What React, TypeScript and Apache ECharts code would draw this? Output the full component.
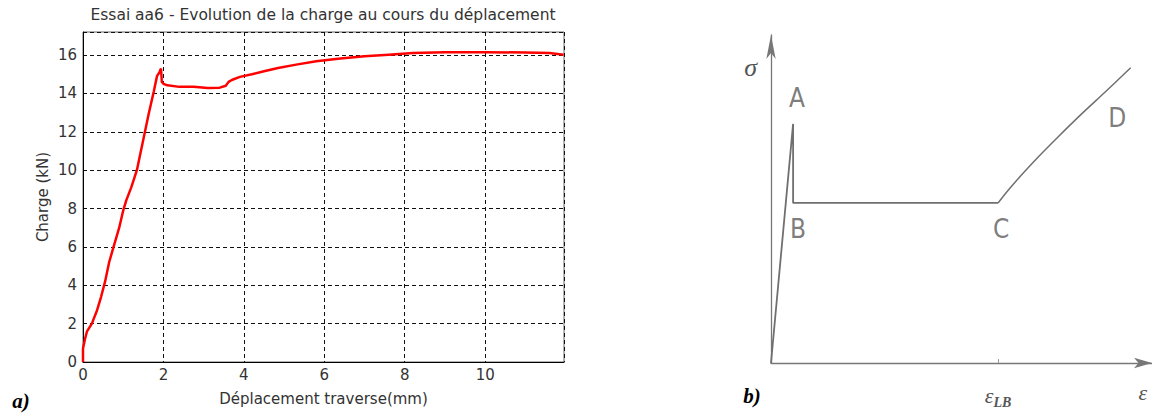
import React, { useEffect, useRef } from "react";
import * as echarts from "echarts";

// ---- Left chart (a): load vs crosshead displacement ----
const chartTitle = "Essai aa6 - Evolution de la charge au cours du déplacement";
const xAxisName = "Déplacement traverse(mm)";
const yAxisName = "Charge (kN)";
const dispMm = [
  0, 0, 0.05, 0.1, 0.22, 0.35, 0.45, 0.55, 0.65, 0.76, 0.9, 1.0, 1.08, 1.2, 1.34, 1.42, 1.5,
  1.63, 1.76, 1.84, 1.9, 1.94, 1.96, 2.0, 2.1, 2.4, 2.75, 3.1, 3.4, 3.55, 3.62, 3.7, 3.9,
  4.2, 4.5, 4.85, 5.3, 5.8, 6.4, 7.0, 7.6, 8.2, 9.0, 10.0, 11.0, 11.6, 11.95,
];
const chargeKN = [
  0, 0.7, 1.2, 1.6, 2.0, 2.7, 3.4, 4.2, 5.2, 6.0, 7.0, 7.9, 8.45, 9.1, 10.0, 10.8, 11.6,
  12.9, 14.1, 14.9, 15.1, 15.3, 14.6, 14.5, 14.42, 14.34, 14.35, 14.28, 14.3, 14.4, 14.6, 14.7, 14.86,
  15.0, 15.15, 15.32, 15.5, 15.67, 15.82, 15.93, 16.02, 16.1, 16.15, 16.15, 16.13, 16.1, 16.02,
];
const xMax = 11.96;
const yMax = 17.2;

// ---- Right diagram (b): schematic sigma-epsilon ----
const diagX = [0, 5.8, 5.8, 59.6];
const diagY = [0, 72.9, 48.8, 48.8];
const curveX = [59.6, 62.2, 65.8, 70.2, 75.4, 81.4, 87.5, 94.4];
const curveY = [48.8, 52.6, 57.4, 62.9, 69.0, 75.8, 82.4, 90.0];
const pointLabels = ["A", "B", "C", "D"];
const pointLabelX = [5.8, 5.8, 59.6, 81.4];
const pointLabelY = [72.9, 48.8, 48.8, 75.8];
const epsLB = 59.6;
const epsEnd = 97.6;
const sigmaPos = 90.2;

export default function App() {
  const ref = useRef<HTMLDivElement>(null);
  useEffect(() => {
    document.body.style.margin = "0";
    if (!ref.current) return;
    const chart = echarts.init(ref.current, null, { renderer: "svg" });
    const txt = "#333333";
    const sans = "'DejaVu Sans', sans-serif";
    const narrow = "'DejaVu Sans Condensed', 'Liberation Sans Narrow', 'Liberation Sans', sans-serif";
    const labelOffsets: Record<string, number[]> = {
      A: [4, -26],
      B: [5, 26],
      C: [3, 26],
      D: [36, 4],
    };
    chart.setOption({
      animation: false,
      grid: [
        { left: 83, top: 32, right: 588, bottom: 52, show: true, borderColor: "#666", borderWidth: 1 },
        { left: 771, top: 35, width: 381, bottom: 51 },
      ],
      xAxis: [
        {
          gridIndex: 0,
          type: "value",
          min: 0,
          max: xMax,
          interval: 2,
          name: xAxisName,
          nameLocation: "middle",
          nameGap: 29,
          nameTextStyle: { fontFamily: sans, fontSize: 15, color: txt },
          axisLine: { show: true, onZero: false, lineStyle: { color: "#000", width: 1 } },
          axisTick: { show: false },
          axisLabel: { fontFamily: sans, fontSize: 15, color: txt, margin: 5, showMaxLabel: false },
          splitLine: { show: true, lineStyle: { color: "#111", type: [4, 3], width: 1 } },
        },
        {
          gridIndex: 1,
          type: "value",
          min: 0,
          max: 100,
          axisLine: {
            show: true,
            onZero: false,
            symbol: ["none", "arrow"],
            symbolSize: [8, 18],
            lineStyle: { color: "#777", width: 1.3 },
          },
          axisTick: { show: true, inside: true, length: 4, customValues: [epsLB], lineStyle: { color: "#999" } },
          axisLabel: {
            show: true,
            customValues: [epsLB, epsEnd],
            margin: 18,
            formatter: (v: number) => (v === epsLB ? "{e|ε}{s|LB}" : "{e|ε}"),
            rich: {
              e: { fontFamily: "'Liberation Serif', serif", fontStyle: "italic", fontSize: 22, color: "#555" },
              s: { fontFamily: "'Liberation Serif', serif", fontStyle: "italic", fontWeight: "bold", fontSize: 14, color: "#555", padding: [14, 0, 0, 0] },
            },
          },
          splitLine: { show: false },
        },
      ],
      yAxis: [
        {
          gridIndex: 0,
          type: "value",
          min: 0,
          max: yMax,
          interval: 2,
          name: yAxisName,
          nameLocation: "middle",
          nameGap: 33,
          nameTextStyle: { fontFamily: sans, fontSize: 15, color: txt },
          axisLine: { show: true, onZero: false, lineStyle: { color: "#000", width: 1 } },
          axisTick: { show: false },
          axisLabel: { fontFamily: sans, fontSize: 15, color: txt, margin: 6, showMaxLabel: false },
          splitLine: { show: true, lineStyle: { color: "#111", type: [4, 3], width: 1 } },
        },
        {
          gridIndex: 1,
          type: "value",
          min: 0,
          max: 100,
          axisLine: {
            show: true,
            onZero: false,
            symbol: ["none", "arrow"],
            symbolSize: [7, 24],
            lineStyle: { color: "#777", width: 1.3 },
          },
          axisTick: { show: false },
          axisLabel: {
            show: true,
            customValues: [sigmaPos],
            margin: 14,
            formatter: () => "σ",
            fontFamily: "'Liberation Serif', serif",
            fontStyle: "italic",
            fontSize: 26,
            color: "#555",
          },
          splitLine: { show: false },
        },
      ],
      series: [
        {
          type: "line",
          xAxisIndex: 0,
          yAxisIndex: 0,
          data: dispMm.map((x, i) => [x, chargeKN[i]]),
          showSymbol: false,
          symbol: "none",
          lineStyle: { color: "#ff0000", width: 2.5 },
        },
        {
          type: "line",
          xAxisIndex: 1,
          yAxisIndex: 1,
          data: diagX.map((x, i) => [x, diagY[i]]),
          symbol: "none",
          lineStyle: { color: "#707070", width: 1.8 },
        },
        {
          type: "line",
          xAxisIndex: 1,
          yAxisIndex: 1,
          data: curveX.map((x, i) => [x, curveY[i]]),
          symbol: "none",
          smooth: 0.3,
          lineStyle: { color: "#707070", width: 1.5 },
        },
        {
          type: "scatter",
          xAxisIndex: 1,
          yAxisIndex: 1,
          symbolSize: 0,
          data: pointLabels.map((n, i) => ({
            name: n,
            value: [pointLabelX[i], pointLabelY[i]],
            label: {
              show: true,
              position: "inside",
              offset: labelOffsets[n],
              formatter: n,
              fontFamily: narrow,
              fontSize: 26,
              color: "#5a5a5a",
            },
          })),
        },
      ],
      graphic: [
        {
          type: "text",
          x: 323,
          y: 15,
          style: {
            text: chartTitle,
            fontFamily: sans,
            fontSize: 15.5,
            fill: txt,
            textAlign: "center",
            textVerticalAlign: "middle",
          },
        },
        {
          type: "text",
          x: 21,
          y: 401,
          style: {
            text: "a)",
            fontFamily: "'Liberation Serif', serif",
            fontStyle: "italic",
            fontWeight: "bold",
            fontSize: 21,
            fill: "#000",
            textAlign: "center",
            textVerticalAlign: "middle",
          },
        },
        {
          type: "text",
          x: 752,
          y: 396,
          style: {
            text: "b)",
            fontFamily: "'Liberation Serif', serif",
            fontStyle: "italic",
            fontWeight: "bold",
            fontSize: 21,
            fill: "#000",
            textAlign: "center",
            textVerticalAlign: "middle",
          },
        },
      ],
    });
    return () => chart.dispose();
  }, []);
  return <div ref={ref} style={{ width: 1152, height: 414 }} />;
}
